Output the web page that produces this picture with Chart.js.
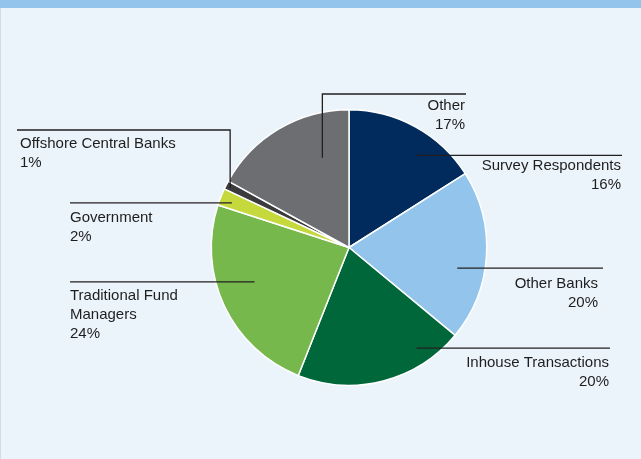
<!DOCTYPE html>
<html>
<head>
<meta charset="utf-8">
<script src="https://cdn.jsdelivr.net/npm/chart.js@4/dist/chart.umd.min.js"></script>
<style>
  html, body { margin: 0; padding: 0; background: #EBF3FB; }
  #wrap { position: relative; width: 641px; height: 459px; }
  canvas { display: block; }
</style>
</head>
<body>
<div id="wrap"><canvas id="pie" width="641" height="459"></canvas></div>
<script>
// Share of activity by counterparty type (%), clockwise from 12 o'clock
const categories = [
  'Survey Respondents',
  'Other Banks',
  'Inhouse Transactions',
  'Traditional Fund Managers',
  'Government',
  'Offshore Central Banks',
  'Other'
];
const shares = [16, 20, 20, 24, 2, 1, 17];
const sliceColors = ['#002B5C', '#93C5EC', '#00673A', '#77B84C', '#C5D93D', '#3B3B3D', '#6D6E72'];

// Text lines shown beside each slice
const labelLines = [
  ['Survey Respondents'],
  ['Other Banks'],
  ['Inhouse Transactions'],
  ['Traditional Fund', 'Managers'],
  ['Government'],
  ['Offshore Central Banks'],
  ['Other']
];

// Leader-line layout per slice: where the line starts inside the slice
// (t = fraction of the arc sweep, rf = fraction of the radius), an optional
// elbow height, the far end of the line and the text placement.
const leaderLayout = [
  { t: 0.63, rf: 0.83, endX: 622, align: 'right', textX: 621, dy: 14.5 },
  { t: 0.60, rf: 0.80, endX: 603, align: 'right', textX: 598, dy: 19.4 },
  { t: 0.23, rf: 0.88, endX: 610, align: 'right', textX: 609, dy: 19 },
  { t: 0.56, rf: 0.73, endX: 70,  align: 'left',  textX: 70,  dy: 18.4 },
  { t: 0.40, rf: 0.91, endX: 70,  align: 'left',  textX: 70,  dy: 19 },
  { t: 0.39, rf: 0.965, elbowY: 130, endX: 17, align: 'left', textX: 20, dy: 18.3 },
  { t: 0.73, rf: 0.68, elbowY: 94, endX: 466, align: 'right', textX: 465, dy: 16 }
];

const backdrop = {
  id: 'backdrop',
  beforeDraw(chart) {
    const { ctx, width, height } = chart;
    ctx.save();
    ctx.fillStyle = '#EBF3FB';
    ctx.fillRect(0, 0, width, height);
    ctx.fillStyle = '#93C5EC';
    ctx.fillRect(0, 0, width, 8);
    ctx.fillStyle = '#D3DCE5';
    ctx.fillRect(0, 8, 1, height - 8);
    ctx.restore();
  }
};

const leaders = {
  id: 'leaders',
  afterDatasetsDraw(chart) {
    const { ctx } = chart;
    const arcs = chart.getDatasetMeta(0).data;
    ctx.save();
    ctx.strokeStyle = '#231F20';
    ctx.lineWidth = 1.3;
    ctx.fillStyle = '#1E1E1E';
    ctx.font = '15px "Liberation Sans", Arial, sans-serif';
    ctx.textBaseline = 'alphabetic';
    arcs.forEach((arc, i) => {
      const L = leaderLayout[i];
      const p = arc.getProps(['x', 'y', 'startAngle', 'endAngle', 'outerRadius'], true);
      const a = p.startAngle + L.t * (p.endAngle - p.startAngle);
      const ax = p.x + Math.cos(a) * p.outerRadius * L.rf;
      const ay = p.y + Math.sin(a) * p.outerRadius * L.rf;
      const lineY = L.elbowY !== undefined ? L.elbowY : ay;
      ctx.beginPath();
      ctx.moveTo(ax, ay);
      if (L.elbowY !== undefined) ctx.lineTo(ax, lineY);
      ctx.lineTo(L.endX, lineY);
      ctx.stroke();
      const lines = labelLines[i].concat([shares[i] + '%']);
      ctx.textAlign = L.align;
      lines.forEach((txt, k) => {
        ctx.fillText(txt, L.textX, lineY + L.dy + k * 19);
      });
    });
    ctx.restore();
  }
};

new Chart(document.getElementById('pie'), {
  type: 'pie',
  data: {
    labels: categories,
    datasets: [{
      data: shares,
      backgroundColor: sliceColors,
      borderColor: '#FFFFFF',
      borderWidth: 1.5
    }]
  },
  options: {
    responsive: false,
    animation: false,
    layout: { padding: { top: 109, bottom: 73, left: 100, right: 43 } },
    plugins: {
      legend: { display: false },
      tooltip: { enabled: false }
    }
  },
  plugins: [backdrop, leaders]
});
</script>
</body>
</html>
